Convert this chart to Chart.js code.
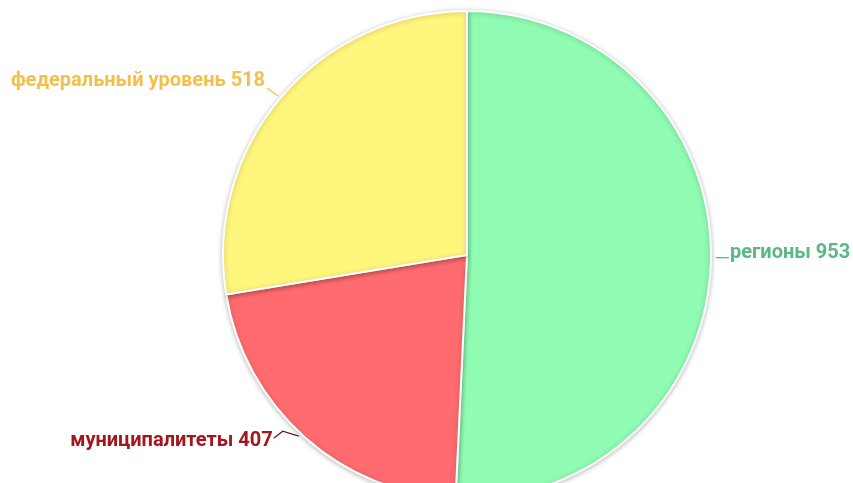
<!DOCTYPE html>
<html>
<head>
<meta charset="utf-8">
<script src="https://cdn.jsdelivr.net/npm/chart.js@4"></script>
<style>
html,body{margin:0;padding:0;background:#fff;overflow:hidden;width:853px;height:483px;}
#wrap{position:absolute;left:0;top:0;width:853px;height:510px;}
</style>
</head>
<body>
<div id="wrap"><canvas id="c" width="853" height="510"></canvas></div>
<script>
const categories = ['регионы', 'муниципалитеты', 'федеральный уровень'];
const values = [953, 407, 518];
const sliceColors = ['#8ffbb3', '#ff6b6e', '#fff67e'];
const labelColors = ['#5bb882', '#a3161d', '#f3c04e'];

const labelPlugin = {
  id: 'outLabels',
  afterDatasetsDraw(chart) {
    const ctx = chart.ctx;
    const meta = chart.getDatasetMeta(0);
    ctx.save();
    ctx.font = 'bold 20px Roboto, "Noto Sans", sans-serif';
    ctx.textBaseline = 'middle';
    ctx.lineWidth = 1.3;
    meta.data.forEach((arc, i) => {
      const mid = (arc.startAngle + arc.endAngle) / 2;
      const r = arc.outerRadius;
      const px = arc.x + Math.cos(mid) * r;
      const py = arc.y + Math.sin(mid) * r;
      const text = categories[i] + ' ' + values[i];
      ctx.strokeStyle = labelColors[i];
      ctx.fillStyle = labelColors[i];
      ctx.beginPath();
      let tx, ty;
      if (Math.cos(mid) >= 0) {
        ctx.moveTo(px + 5, py - 3);
        ctx.lineTo(px + 18, py - 3);
        tx = px + 19; ty = py - 8;
        ctx.stroke();
        ctx.textAlign = 'left';
      } else if (Math.sin(mid) < 0) {
        ctx.moveTo(px - 3, py - 1);
        ctx.lineTo(px - 14, py - 9);
        ctx.stroke();
        tx = px - 16; ty = py - 16;
        ctx.textAlign = 'right';
      } else {
        ctx.strokeStyle = '#5a2020';
        ctx.moveTo(px - 6, py - 1);
        ctx.lineTo(px - 22, py - 6);
        ctx.lineTo(px - 31, py + 1);
        ctx.stroke();
        tx = px - 32; ty = py + 4;
        ctx.textAlign = 'right';
      }
      ctx.fillText(text, tx, ty);
    });
    ctx.restore();
  }
};

const shadowPlugin = {
  id: 'sliceShadow',
  beforeDatasetDraw(chart) {
    const ctx = chart.ctx;
    ctx.save();
    ctx.shadowColor = 'rgba(0,0,0,0.25)';
    ctx.shadowBlur = 5;
    ctx.shadowOffsetX = 0;
    ctx.shadowOffsetY = 1;
  },
  afterDatasetDraw(chart) {
    chart.ctx.restore();
  }
};

new Chart(document.getElementById('c'), {
  type: 'pie',
  data: {
    labels: categories,
    datasets: [{
      data: values,
      backgroundColor: sliceColors,
      borderColor: '#ffffff',
      borderWidth: 2
    }]
  },
  options: {
    responsive: false,
    animation: false,
    layout: { padding: { top: 10, bottom: 10, left: 81, right: 0 } },
    plugins: {
      legend: { display: false },
      tooltip: { enabled: false }
    }
  },
  plugins: [shadowPlugin, labelPlugin]
});
</script>
</body>
</html>
